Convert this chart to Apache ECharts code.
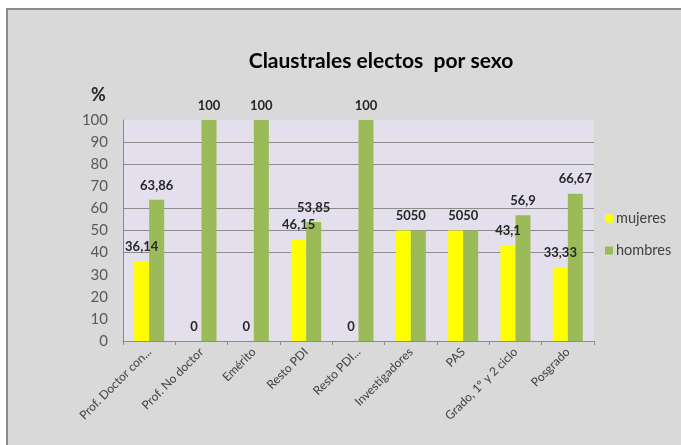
<!DOCTYPE html>
<html>
<head>
<meta charset="utf-8">
<script src="https://cdn.jsdelivr.net/npm/echarts@6/dist/echarts.min.js"></script>
<style>
html,body{margin:0;padding:0;background:#fff;}
#c{width:681px;height:445px;}
</style>
</head>
<body>
<div id="c"></div>
<script>
var categories = ['Prof. Doctor con...', 'Prof. No doctor', 'Emérito', 'Resto PDI', 'Resto PDI...', 'Investigadores', 'PAS', 'Grado, 1º y 2 ciclo', 'Posgrado'];
var mujeres = [36.14, 0, 0, 46.15, 0, 50, 50, 43.1, 33.33];
var hombres = [63.86, 100, 100, 53.85, 100, 50, 50, 56.9, 66.67];
var yTicks = [0, 10, 20, 30, 40, 50, 60, 70, 80, 90, 100];

var FONT = 'Lato, "Open Sans", sans-serif';
var chart = echarts.init(document.getElementById('c'));
var gridLineColors = yTicks.map(function (v) {
  return (v === 40 || v === 50 || v === 60 || v === 80 || v === 90) ? '#8c8c8c' : 'rgba(0,0,0,0)';
});
function fmt(p) { return String(p.value).replace('.', ','); }
var labelCfg = {
  show: true, position: 'top', distance: 8, formatter: fmt,
  fontFamily: FONT, fontWeight: 'bold', fontSize: 13, color: '#262626'
};
chart.setOption({
  animation: false,
  backgroundColor: '#ffffff',
  graphic: [
    { type: 'rect', z: -10, shape: { x: 7, y: 9, width: 700, height: 460 },
      style: { fill: '#d9d9d9', stroke: '#8c8c8c', lineWidth: 2 } },
    { type: 'text', left: 91, top: 86,
      style: { text: '%', font: 'bold 18px ' + FONT, fill: '#262626' } }
  ],
  title: {
    text: 'Claustrales electos  por sexo',
    left: 376, top: 46, textAlign: 'center',
    textStyle: { fontFamily: FONT, fontWeight: 'bold', fontSize: 21, color: '#000' }
  },
  legend: {
    orient: 'vertical', left: 600, top: 206,
    itemWidth: 8, itemHeight: 8, itemGap: 17,
    icon: 'rect',
    textStyle: { fontFamily: FONT, fontSize: 14.5, color: '#404040', padding: [0, 0, 0, -2] },
    data: ['mujeres', 'hombres']
  },
  grid: {
    left: 123, right: 87, top: 120, bottom: 104,
    show: true, backgroundColor: '#e4dfec', borderWidth: 0
  },
  xAxis: {
    type: 'category', data: categories,
    axisLine: { show: true, lineStyle: { color: '#8c8c8c', width: 1 } },
    axisTick: { show: true, length: 4, lineStyle: { color: '#8c8c8c' } },
    axisLabel: { rotate: 45, interval: 0, fontFamily: FONT, fontSize: 12, color: '#404040', margin: 9 }
  },
  yAxis: {
    type: 'value', min: 0, max: 100, interval: 10,
    axisLine: { show: true, lineStyle: { color: '#8c8c8c', width: 1 } },
    axisTick: { show: false },
    axisLabel: { fontFamily: FONT, fontSize: 15, color: '#595959', margin: 15 },
    splitLine: { show: true, lineStyle: { color: gridLineColors, width: 1 } }
  },
  series: [
    { name: 'mujeres', type: 'bar', data: mujeres, barWidth: 15, barGap: '0%',
      itemStyle: { color: '#ffff00' }, label: labelCfg },
    { name: 'hombres', type: 'bar', data: hombres, barWidth: 15, barGap: '0%',
      itemStyle: { color: '#9bbb59' }, label: labelCfg }
  ]
});
</script>
</body>
</html>
